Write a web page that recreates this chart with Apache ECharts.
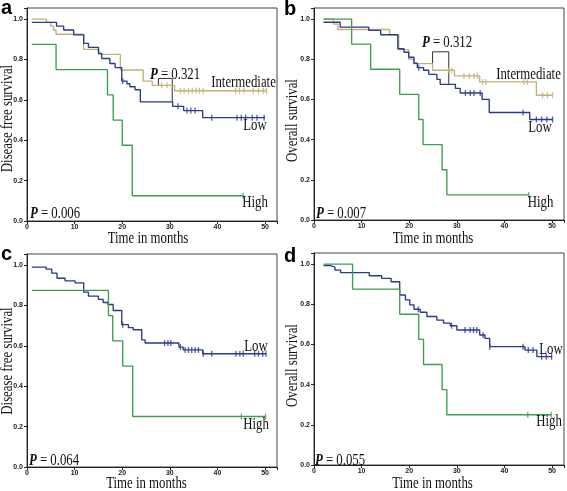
<!DOCTYPE html>
<html><head><meta charset="utf-8">
<script src="https://cdn.jsdelivr.net/npm/echarts@6/dist/echarts.min.js"></script>
<style>html,body{margin:0;padding:0;background:#fff}#c{width:567px;height:491px}</style>
</head><body><div id="c"></div>
<script>
// ---- Panel a : disease free survival, three groups ----
const aLowT = [1, 6.2, 7.7, 9.8, 11.9, 12.9, 15, 15.7, 17.4, 18.5, 19.9, 21, 21.6, 22.7, 23.8, 30.6, 32.9, 36.9, 50];
const aLowS = [0.984, 0.965, 0.946, 0.922, 0.88, 0.86, 0.83, 0.805, 0.78, 0.76, 0.693, 0.68, 0.665, 0.65, 0.59, 0.568, 0.547, 0.512, 0.512];
const aLowC = [20.1, 31.7, 33.6, 34.4, 35.3, 38.8, 44.1, 45, 45.9, 47.3, 48.3, 49.8];
const aIntT = [1, 4.1, 5.0, 5.6, 6.1, 11.9, 15.1, 19.6, 24.4, 26.3, 31, 50.3];
const aIntS = [1.0, 0.984, 0.965, 0.945, 0.925, 0.85, 0.825, 0.748, 0.693, 0.672, 0.645, 0.645];
const aIntC = [28.3, 29.4, 32.2, 33, 33.9, 34.7, 35.5, 36.2, 37, 43.8, 44.6, 45.6, 47.5, 48.6, 49.6, 50.3];
const aHighT = [1, 6.1, 16.9, 18.1, 20, 22.1, 45.4];
const aHighS = [0.875, 0.75, 0.625, 0.5, 0.375, 0.125, 0.125];
const aHighC = [45.4];
const aBrT = [27.6, 27.6, 30.5, 30.5];
const aBrS = [0.668, 0.706, 0.706, 0.59];

// ---- Panel b : overall survival, three groups ----
const bLowT = [2, 5.5, 11.5, 14, 17.6, 18.9, 19.9, 21, 21.7, 23, 24.1, 25.8, 26.5, 29.7, 30.7, 35.3, 36.8, 45.3, 50.1];
const bLowS = [0.984, 0.96, 0.944, 0.922, 0.852, 0.835, 0.81, 0.78, 0.758, 0.745, 0.725, 0.70, 0.675, 0.655, 0.632, 0.60, 0.535, 0.50, 0.50];
const bLowC = [22, 31.8, 32.8, 33.6, 34.9, 43.9, 46.7, 47.8, 48.9, 50.1];
const bIntT = [2, 4.1, 5, 15.9, 17.8, 19.9, 20.9, 24.9, 29.5, 34.8, 46.7, 50.1];
const bIntS = [1.0, 0.975, 0.948, 0.922, 0.848, 0.80, 0.778, 0.745, 0.717, 0.687, 0.621, 0.621];
const bIntC = [28.3, 28.9, 31.5, 32.6, 33.6, 34.3, 35.4, 36.1, 44.1, 44.8, 48, 49, 50.1];
const bHighT = [2, 7.9, 11.9, 18, 22, 22.9, 26.9, 27.9, 45.1];
const bHighS = [1.0, 0.875, 0.75, 0.625, 0.5, 0.375, 0.25, 0.125, 0.125];
const bHighC = [45.1];
const bBrT = [24.9, 24.9, 28.3, 28.3];
const bBrS = [0.778, 0.837, 0.837, 0.672];

// ---- Panel c : disease free survival, two groups ----
const cLowT = [1, 4, 5.2, 6.3, 8, 10.1, 11.9, 12.9, 15, 16, 17, 18.1, 19.9, 21.3, 22.3, 24.1, 24.8, 31.9, 32.8, 36.9, 50.2];
const cLowS = [0.99, 0.98, 0.96, 0.935, 0.922, 0.912, 0.866, 0.846, 0.83, 0.815, 0.805, 0.775, 0.705, 0.69, 0.68, 0.63, 0.614, 0.594, 0.58, 0.561, 0.561];
const cLowC = [20.1, 28.9, 29.6, 30.2, 32.2, 33.2, 33.9, 34.6, 35.3, 36, 37, 38.8, 43.9, 44.7, 45.4, 47.8, 48.6, 49.5, 50.2];
const cHighT = [1, 17.1, 18, 20.1, 22.2, 50.1];
const cHighS = [0.875, 0.75, 0.625, 0.5, 0.25, 0.25];
const cHighC = [45, 50.1];

// ---- Panel d : overall survival, two groups ----
const dLowT = [2, 3.3, 4.4, 5.6, 11.6, 14.2, 16.2, 18, 19.2, 20.1, 21, 22.3, 23.7, 25.8, 27.2, 28.6, 30, 34.8, 35.9, 36.9, 44.3, 46.8, 50];
const dLowS = [0.993, 0.985, 0.97, 0.957, 0.942, 0.929, 0.912, 0.846, 0.822, 0.797, 0.775, 0.76, 0.739, 0.721, 0.706, 0.693, 0.672, 0.647, 0.63, 0.589, 0.572, 0.539, 0.539];
const dLowC = [21.9, 28.9, 31.7, 32.8, 33.5, 34.2, 35.5, 36.9, 43.9, 45, 46, 47.8, 48.8, 49.9];
const dHighT = [2, 8.1, 18, 22, 23, 26.9, 27.9, 49.8];
const dHighS = [1.0, 0.875, 0.75, 0.625, 0.5, 0.375, 0.25, 0.25];
const dHighC = [44.9, 49.8];

// ---- text ----
const panelLetters = ['a', 'b', 'c', 'd'];
const yTitles = ['Disease free survival', 'Overall survival', 'Disease free survival', 'Overall survival'];
const xTitle = 'Time in months';
const pOverall = ['0.006', '0.007', '0.064', '0.055'];
const pPair = ['0.321', '0.312'];

const BLUE = '#2a3a8c', TAN = '#c2b077', GREEN = '#3d9e4c', DARK = '#333';
const SERIF = '"Liberation Serif","Times New Roman",serif';
const SANS = '"Liberation Sans",Arial,sans-serif';

const chart = echarts.init(document.getElementById('c'), null, {renderer: 'canvas'});

function pts(T, S) { return T.map((t, i) => [t, S[i]]); }
function censPts(T, S, C) {
  return C.map(c => { let s = S[0]; for (let i = 0; i < T.length; i++) { if (T[i] <= c + 1e-9) s = S[i]; } return [c, s]; });
}
const grids = [
  {left: 27, top: 8, width: 250, height: 213},
  {left: 314, top: 8, width: 250, height: 212},
  {left: 27, top: 254, width: 250, height: 213},
  {left: 314, top: 253, width: 250, height: 212}
].map(g => Object.assign({show: true, borderColor: '#444', borderWidth: 1, backgroundColor: 'transparent'}, g));

const labStyle = {color: '#222', fontSize: 7, fontWeight: 'bold', fontFamily: SANS};
const xAxes = grids.map((g, i) => ({
  type: 'value', gridIndex: i, min: 0, max: 52.5, interval: 10,
  axisLine: {show: true, lineStyle: {color: '#222', width: 1}},
  axisTick: {show: true, length: 3, lineStyle: {color: '#222'}},
  axisLabel: Object.assign({margin: 3, formatter: v => (Math.abs(v % 10) < 1e-6 ? String(v) : '')}, labStyle),
  splitLine: {show: false}
}));
const yAxes = grids.map((g, i) => ({
  type: 'value', gridIndex: i, min: 0, max: 1.055, interval: 0.2,
  axisLine: {show: true, lineStyle: {color: '#222', width: 1}},
  axisTick: {show: true, length: 3, lineStyle: {color: '#222'}},
  axisLabel: Object.assign({margin: 4, formatter: v => { const r = Math.round(v * 5) / 5; return Math.abs(v - r) < 1e-6 ? r.toFixed(1) : ''; }}, labStyle),
  splitLine: {show: false}
}));

function km(gi, T, S, color) {
  return {type: 'line', xAxisIndex: gi, yAxisIndex: gi, data: pts(T, S), step: 'end', symbol: 'none', showSymbol: false,
    lineStyle: {color: color, width: 1.35}, itemStyle: {color: color}, z: 3, silent: true};
}
function cens(gi, T, S, C, color) {
  return {type: 'scatter', xAxisIndex: gi, yAxisIndex: gi, data: censPts(T, S, C), symbol: 'rect', symbolSize: [1.3, 6],
    itemStyle: {color: color}, z: 4, silent: true};
}
function bracket(gi, T, S) {
  return {type: 'line', xAxisIndex: gi, yAxisIndex: gi, data: pts(T, S), symbol: 'none', showSymbol: false,
    lineStyle: {color: DARK, width: 1}, z: 2, silent: true};
}

const series = [
  km(0, aIntT, aIntS, TAN), cens(0, aIntT, aIntS, aIntC, TAN),
  km(0, aLowT, aLowS, BLUE), cens(0, aLowT, aLowS, aLowC, BLUE),
  km(0, aHighT, aHighS, GREEN), cens(0, aHighT, aHighS, aHighC, GREEN),
  bracket(0, aBrT, aBrS),
  km(1, bIntT, bIntS, TAN), cens(1, bIntT, bIntS, bIntC, TAN),
  km(1, bLowT, bLowS, BLUE), cens(1, bLowT, bLowS, bLowC, BLUE),
  km(1, bHighT, bHighS, GREEN), cens(1, bHighT, bHighS, bHighC, GREEN),
  bracket(1, bBrT, bBrS),
  km(2, cLowT, cLowS, BLUE), cens(2, cLowT, cLowS, cLowC, BLUE),
  km(2, cHighT, cHighS, GREEN), cens(2, cHighT, cHighS, cHighC, GREEN),
  km(3, dLowT, dLowS, BLUE), cens(3, dLowT, dLowS, dLowC, BLUE),
  km(3, dHighT, dHighS, GREEN), cens(3, dHighT, dHighS, dHighC, GREEN)
];

function txt(x, y, text, rot) {
  return {type: 'text', x: x, y: y, rotation: rot || 0, scaleX: 0.8, z: 10,
    style: {text: text, fontFamily: SERIF, fontSize: 16, fill: '#111', align: 'center', verticalAlign: 'middle',
      rich: {p: {fontFamily: SERIF, fontSize: 16, fontStyle: 'italic', fontWeight: 'bold', fill: '#111'}}}};
}
function letter(x, y, t) {
  return {type: 'text', x: x, y: y, z: 10, style: {text: t, fontFamily: SANS, fontWeight: 'bold', fontSize: 20, fill: '#000', align: 'left', verticalAlign: 'middle'}};
}
const R = Math.PI / 2;
const graphic = [
  letter(1, 8.5, panelLetters[0]), letter(284, 9, panelLetters[1]), letter(1, 254.5, panelLetters[2]), letter(284, 256, panelLetters[3]),
  txt(8, 118.5, yTitles[0], R), txt(293, 120.5, yTitles[1], R), txt(8, 361, yTitles[2], R), txt(293, 365.5, yTitles[3], R),
  txt(148, 239, xTitle), txt(433, 239, xTitle), txt(146.5, 484, xTitle), txt(432.5, 484, xTitle),
  txt(55, 214, '{p|P} = ' + pOverall[0]), txt(341, 214, '{p|P} = ' + pOverall[1]),
  txt(54, 461, '{p|P} = ' + pOverall[2]), txt(340, 461, '{p|P} = ' + pOverall[3]),
  txt(175, 75, '{p|P} = ' + pPair[0]), txt(447, 43, '{p|P} = ' + pPair[1]),
  txt(243.5, 83, 'Intermediate'), txt(255, 126, 'Low'), txt(255, 203, 'High'),
  txt(528.5, 75, 'Intermediate'), txt(540, 128, 'Low'), txt(540.5, 203, 'High'),
  txt(256, 347, 'Low'), txt(256, 425, 'High'),
  txt(551, 350, 'Low'), txt(549, 422, 'High')
];

chart.setOption({
  animation: false,
  backgroundColor: '#fff',
  grid: grids, xAxis: xAxes, yAxis: yAxes, series: series, graphic: graphic
});
</script>
</body></html>
